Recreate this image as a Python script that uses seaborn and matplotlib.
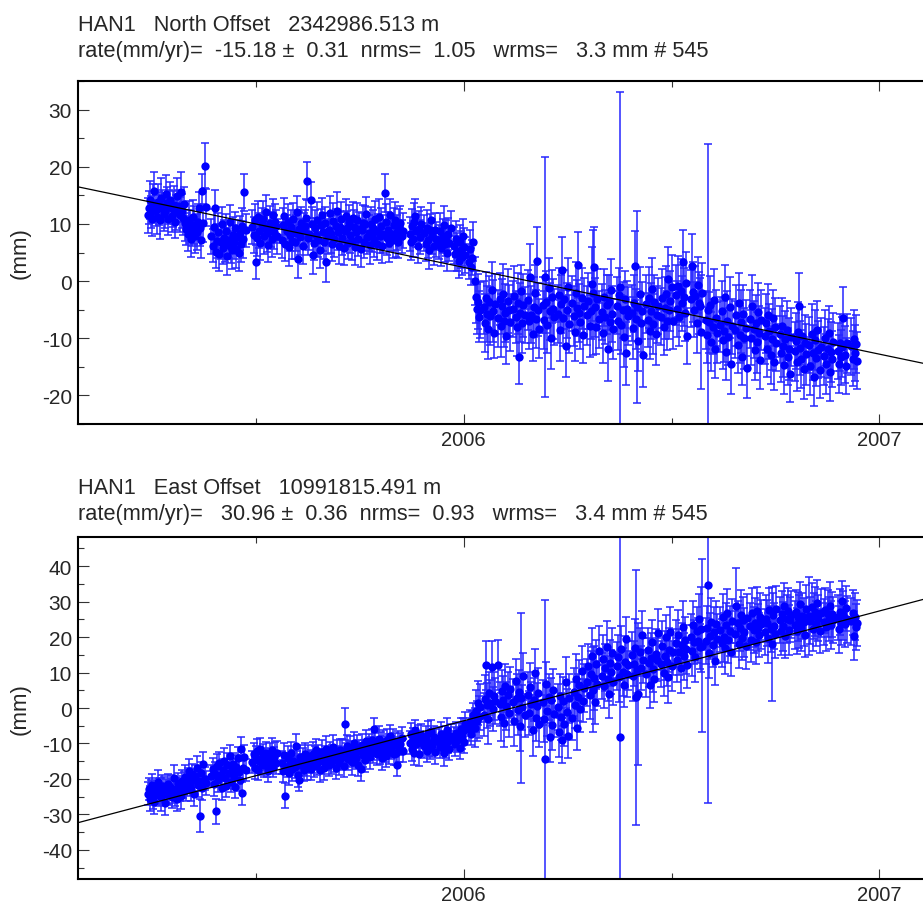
import numpy as np
import pandas as pd
import seaborn as sns
import matplotlib.pyplot as plt
from matplotlib.ticker import MultipleLocator, FixedLocator

# HAN1 daily GPS solutions. Each run of consecutive days starts at run_start
# (day of year 2005, days > 365 fall in 2006) and lasts run_len days.
run_start = [88, 144, 180, 206,
             318, 331, 344, 357, 370, 383, 396, 409, 422, 435, 448, 461, 474, 487,
             500, 513, 526, 539, 552, 565, 578, 591, 604, 617, 630, 643, 656, 669,
             682, 694, 706]
run_len = [52, 31, 23, 107,
           11, 11, 11, 11, 11, 11, 11, 11, 11, 11, 11, 11, 11, 11,
           11, 11, 11, 11, 11, 11, 11, 11, 11, 11, 11, 11, 11, 11,
           9, 9, 6]

north_mm = [
    # 88-139
    11.5, 12.8, 14.2, 12.1, 10.9, 13.5, 15.8, 12.4, 11.2, 13.9,
    12.7, 10.6, 14.6, 13.1, 11.8, 12.3, 15.2, 13.6, 10.8, 12.9,
    14.1, 11.4, 12.6, 13.3, 10.4, 12.0, 14.8, 13.2, 11.6, 15.5,
    12.2, 11.0, 13.4,
    10.2, 9.1, 8.3, 10.7, 9.6, 7.4, 8.9, 11.2, 9.8, 7.9,
    8.6, 10.4, 12.8, 9.3, 7.1, 15.8, 10.1, 20.2, 12.9,
    # 144-174
    7.8, 6.2, 9.4, 12.8, 5.1, 7.0, 8.6, 4.7, 6.9, 9.9,
    5.8, 7.5, 6.3, 8.8, 4.4, 7.2, 10.3, 6.0, 5.4, 8.1,
    6.8, 9.2, 5.6, 7.7, 4.9, 8.4, 6.5, 9.7, 7.3, 15.5, 8.9,
    # 180-202
    9.4, 8.1, 10.6, 3.3, 7.6, 11.2, 8.8, 6.7, 9.9, 10.8,
    7.9, 9.2, 12.1, 8.4, 6.3, 10.1, 9.0, 7.4, 11.5, 8.6,
    10.3, 9.6, 7.8,
    # 206-312
    7.2, 9.8, 11.3, 6.5, 8.7, 10.4, 5.9, 8.1, 9.5, 7.0,
    10.9, 6.8, 8.4, 12.0, 3.9, 9.1, 7.7, 10.2, 6.1, 8.9,
    9.6, 11.1, 17.5, 7.5, 8.3, 14.2, 10.0, 4.5, 6.6, 9.3,
    8.0, 10.7, 7.1, 5.4, 9.8, 11.6, 8.6, 6.9, 10.1, 3.3,
    7.8, 9.0, 11.9, 8.2, 6.4, 10.5, 7.3, 9.7, 12.2, 8.5,
    6.2, 9.4, 10.8, 7.6, 5.8, 8.8, 11.4, 9.2, 6.7, 10.3,
    8.1, 7.0, 11.0, 9.5, 6.0, 8.6, 10.6, 7.4, 9.1, 5.6,
    8.9, 10.2, 6.8, 9.9, 11.7, 7.7, 8.4, 6.3, 10.0, 8.0,
    9.3, 7.2, 10.9, 6.5, 8.7, 11.2, 7.9, 9.6, 6.1, 8.3,
    15.4, 10.4, 7.5, 9.0, 6.6, 11.5, 8.2, 7.1, 9.8, 10.6,
    7.3, 8.5, 6.9, 9.4, 10.1, 7.8, 8.8,
    # 318 onwards, runs of 11
    8.2, 6.9, 9.7, 7.4, 10.3, 11.4, 8.8, 6.2, 9.1, 7.7, 10.0,
    8.4, 6.5, 9.3, 7.1, 5.4, 8.9, 10.6, 7.8, 6.1, 9.0, 7.3,
    6.8, 8.7, 5.7, 7.9, 9.8, 6.4, 7.5, 4.9, 8.3, 6.6, 9.2,
    6.2, 4.8, 7.4, 5.1, 3.6, 6.9, 5.5, 4.2, 7.8, 5.9, 4.6,
    3.4, 5.6, 2.5, 4.1, 6.9, 0.1, -2.8, -4.9, -3.6, -6.2, -5.0,
    -4.6, -7.3, -2.9, -5.8, -8.4, -3.7, -6.1, -1.5, -5.2, -9.0, -4.0,
    -6.5, -3.1, -7.8, -4.4, -2.2, -6.9, -5.6, -9.6, -3.5, -5.1, -7.2,
    -4.8, -2.6, -6.3, -8.1, -3.9, -13.2, -5.5, -1.8, -7.4, -4.2, -6.0,
    -3.3, -7.0, 0.8, -5.9, -9.2, -4.5, -2.0, -6.6, 3.5, -5.0, -8.3,
    -4.1, -6.8, 0.7, -3.6, -7.7, -1.2, -5.3, -9.9, -2.7, -4.9, -6.2,
    -5.7, -2.4, -8.6, -4.0, 1.9, -6.4, -3.2, -11.3, -5.1, -1.0, -7.5,
    -3.9, -6.1, -8.9, -2.1, -4.7, 2.8, -5.6, -7.1, -3.0, -9.4, -4.4,
    -6.0, -3.4, -7.8, -5.2, -0.5, -2.0, 2.4, -4.6, -8.0, -3.1, -6.7,
    -5.4, -9.1, -2.8, -6.3, -4.1, -11.8, -3.7, -7.2, -1.6, -5.8, -8.4,
    -4.3, -6.9, -2.5, -1.0, -7.6, -5.0, -9.8, -3.2, -12.6, -4.8, -6.1,
    -5.5, -8.2, -3.9, 2.7, -6.6, -4.5, -10.4, -2.3, -7.3, -5.2, -13.0,
    -4.0, -6.8, -2.9, -8.7, -5.3, -1.4, -7.5, -3.6, -9.3, -5.9, -4.4,
    -6.2, -3.0, -8.1, -4.7, -2.2, -6.9, 0.4, -5.1, -3.5, -1.0, -7.0,
    -2.4, -4.8, -0.9, -6.3, -1.7, -3.9, 3.3, -2.8, -5.5, -0.3, -9.6,
    -3.1, 2.7, -1.9, -5.0, -2.6, -7.4, -0.6, -3.8, -4.4, -8.9, -2.0,
    -6.8, -9.5, -5.0, -7.2, -4.1, -10.6, -8.0, -3.3, -11.9, -6.4, -9.0,
    -7.6, -5.2, -10.3, -8.8, -2.7, -12.4, -6.9, -9.7, -4.6, -14.5, -7.9,
    -8.5, -6.0, -11.1, -3.8, -9.4, -7.1, -13.3, -5.7, -10.0, -8.2, -15.2,
    -6.6, -9.9, -4.3, -8.4, -12.1, -7.3, -10.7, -5.4, -9.1, -13.8, -6.8,
    -9.6, -7.4, -11.8, -5.9, -8.8, -12.9, -10.2, -6.5, -14.1, -8.1, -10.9,
    -9.3, -12.6, -7.8, -11.4, -14.7, -10.1, -8.6, -13.2, -11.9, -16.3, -9.8,
    -12.3, -10.5, -14.2, -8.9, -4.4, -11.7, -13.6, -9.6, -15.4, -10.8, -12.8,
    -11.1, -14.9, -9.2, -12.5, -16.8, -10.3, -13.4, -8.5, -12.0, -15.6, -11.6,
    # 682-690, 694-702, 706-711
    -13.1, -10.0, -14.5, -11.8, -9.1, -15.9, -12.4, -13.7, -10.6,
    -12.2, -14.5, -10.8, -13.3, -11.5, -6.4, -12.9, -14.8, -10.9,
    -11.4, -13.6, -10.2, -12.5, -11.0, -13.9,
]

north_sig = [
    3.1, 2.9, 3.3, 2.8, 3.0, 3.4, 3.2, 2.7, 3.0, 3.1,
    2.9, 3.2, 3.5, 2.8, 3.0, 3.1, 3.3, 2.9, 2.7, 3.0,
    3.2, 2.8, 3.1, 3.4, 2.9, 3.0, 3.2, 2.8, 3.1, 3.6,
    3.0, 2.9, 3.1,
    3.2, 2.8, 3.0, 3.3, 2.9, 3.1, 2.7, 3.0, 3.4, 2.9,
    3.1, 3.0, 2.8, 3.2, 3.0, 3.0, 3.3, 4.0, 3.2,
    3.0, 2.9, 3.2, 3.1, 2.8, 3.0, 3.3, 2.9, 3.1, 3.0,
    2.8, 3.2, 3.0, 2.9, 3.4, 3.1, 3.0, 2.8, 3.2, 3.1,
    3.0, 2.9, 3.3, 3.0, 3.2, 2.9, 3.1, 3.0, 3.2, 3.2, 2.9,
    3.0, 3.1, 2.9, 3.0, 3.2, 2.8, 3.1, 3.0, 2.9, 3.2,
    3.1, 2.8, 3.0, 3.3, 2.9, 3.1, 3.0, 3.2, 2.8, 3.0,
    3.1, 2.9, 3.0,
    3.1, 2.9, 3.2, 3.0, 2.8, 3.1, 3.3, 2.9, 3.0, 3.2,
    2.8, 3.0, 3.1, 2.9, 3.3, 3.0, 3.2, 2.8, 3.1, 3.0,
    2.9, 3.2, 3.4, 3.0, 2.8, 3.1, 3.0, 3.3, 2.9, 3.1,
    3.0, 3.2, 2.9, 3.1, 2.8, 3.0, 3.3, 3.1, 2.9, 3.4,
    3.1, 2.9, 3.0, 3.2, 2.8, 3.1, 3.0, 2.9, 3.3, 3.0,
    3.2, 2.8, 3.0, 3.1, 2.9, 3.2, 3.0, 3.1, 2.8, 3.0,
    3.1, 3.3, 2.9, 3.0, 3.2, 2.8, 3.1, 3.0, 2.9, 3.2,
    3.0, 3.1, 2.8, 3.2, 3.0, 2.9, 3.1, 3.3, 3.0, 2.9,
    3.2, 3.0, 3.1, 2.8, 3.0, 3.2, 2.9, 3.1, 3.0, 3.3,
    3.4, 3.0, 2.9, 3.1, 3.2, 2.8, 3.0, 3.1, 2.9, 3.2,
    3.0, 3.1, 2.9, 3.2, 3.0, 2.8, 3.1,
    3.0, 3.2, 2.9, 3.1, 3.3, 3.0, 2.8, 3.1, 3.2, 2.9, 3.0,
    3.1, 2.9, 3.2, 3.0, 3.3, 2.8, 3.1, 3.0, 3.2, 2.9, 3.1,
    3.0, 3.2, 3.1, 2.9, 3.3, 3.0, 3.1, 3.2, 2.8, 3.0, 3.1,
    3.2, 3.0, 3.1, 3.3, 3.0, 2.9, 3.2, 3.1, 3.0, 3.3, 3.1,
    3.1, 3.3, 3.2, 3.0, 3.4, 4.2, 4.6, 4.4, 4.8, 4.5, 4.9,
    4.7, 5.1, 4.5, 4.9, 5.3, 4.6, 5.0, 4.8, 5.4, 4.4, 5.2,
    5.0, 4.6, 5.5, 4.8, 5.2, 4.7, 5.1, 4.9, 5.6, 4.5, 5.0,
    4.9, 5.3, 4.6, 5.0, 5.4, 4.8, 5.2, 4.7, 5.1, 5.5, 4.9,
    5.2, 4.8, 5.6, 5.0, 4.7, 5.3, 4.9, 5.1, 6.0, 4.6, 5.2,
    4.9, 5.1, 21.0, 5.4, 4.8, 5.2, 5.0, 5.5, 4.7, 5.3, 4.9,
    5.1, 4.7, 5.3, 5.0, 5.8, 4.9, 5.2, 5.4, 4.8, 5.1, 5.0,
    4.8, 5.2, 5.0, 5.5, 4.9, 5.7, 5.1, 4.7, 5.3, 5.0, 4.9,
    5.2, 4.9, 5.4, 5.0, 6.5, 11.0, 7.0, 5.1, 4.8, 5.3, 5.0,
    4.9, 5.3, 5.0, 4.7, 5.2, 5.6, 4.8, 5.1, 5.4, 4.9, 5.2,
    5.0, 5.2, 4.8, 34.0, 5.1, 4.9, 5.3, 5.0, 5.5, 4.8, 5.1,
    4.9, 5.4, 5.0, 6.0, 5.2, 16.8, 5.3, 4.8, 5.1, 5.0, 5.6,
    5.1, 4.8, 5.3, 5.0, 4.9, 5.4, 5.2, 4.7, 5.3, 5.0, 4.9,
    5.0, 5.2, 4.9, 5.4, 4.8, 5.1, 5.6, 5.0, 5.3, 5.5, 4.9,
    5.2, 4.9, 5.3, 5.0, 5.5, 4.8, 5.7, 5.1, 5.0, 5.4, 4.9,
    5.0, 5.6, 5.2, 4.8, 5.3, 5.1, 4.9, 5.4, 5.0, 10.0, 5.2,
    5.1, 4.9, 29.0, 5.3, 5.0, 5.2, 4.8, 5.4, 5.1, 4.9, 5.3,
    4.8, 5.2, 5.0, 5.3, 5.6, 4.9, 5.1, 5.0, 5.4, 5.2, 4.8,
    5.0, 5.3, 4.9, 5.2, 5.0, 5.5, 4.8, 5.1, 5.3, 4.9, 5.2,
    5.1, 4.8, 5.4, 5.0, 5.2, 4.9, 5.3, 5.1, 4.8, 5.0, 5.3,
    4.9, 5.2, 5.0, 5.4, 4.8, 5.1, 5.3, 4.9, 5.0, 5.2, 4.8,
    5.0, 5.1, 4.9, 5.3, 5.0, 4.8, 5.2, 5.0, 5.4, 4.9, 5.1,
    5.2, 4.9, 5.0, 5.3, 5.8, 4.8, 5.1, 5.0, 5.2, 4.9, 5.3,
    4.9, 5.1, 5.2, 4.8, 5.0, 5.3, 4.9, 5.1, 5.0, 4.8, 5.2,
    5.0, 4.9, 5.2, 5.1, 4.8, 5.0, 5.3, 4.9, 5.1,
    4.9, 5.1, 5.0, 4.8, 5.2, 5.4, 5.0, 4.9, 5.1,
    5.0, 4.8, 5.2, 4.9, 5.1, 5.0,
]

east_mm = [
    # 88-139
    -24.1, -22.8, -25.6, -23.3, -21.7, -24.9, -26.4, -22.5, -23.8, -20.9,
    -24.6, -23.1, -25.2, -21.9, -22.7, -26.8, -23.5, -24.2, -21.4, -23.9,
    -22.3, -25.1, -23.6, -19.8, -24.4, -22.9, -25.7, -21.2, -23.0, -24.7,
    -20.6, -22.4, -21.3,
    -19.5, -23.2, -20.1, -17.8, -21.6, -22.9, -18.7, -20.4, -24.1, -19.3,
    -16.9, -21.8, -20.5, -30.3, -18.4, -22.6, -15.8, -19.9, -21.1,
    # 144-174
    -19.2, -17.1, -21.4, -18.6, -29.1, -16.3, -20.2, -15.4, -18.9, -22.6,
    -17.5, -14.8, -19.7, -21.9, -16.2, -18.4, -13.6, -20.8, -17.7, -15.9,
    -19.5, -22.3, -16.7, -14.2, -18.1, -20.4, -11.5, -24.0, -16.9, -13.8, -17.4,
    # 180-202
    -15.2, -13.1, -16.8, -14.0, -12.2, -17.4, -14.9, -11.6, -15.7, -13.5,
    -16.2, -14.4, -12.8, -15.9, -17.8, -13.3, -14.7, -11.9, -16.5, -14.1,
    -13.0, -15.4, -12.6,
    # 206-312
    -15.4, -17.8, -13.2, -24.7, -16.5, -14.1, -18.3, -15.9, -12.7, -17.2,
    -14.8, -16.6, -10.6, -15.3, -18.9, -20.3, -13.9, -16.0, -14.5, -17.5,
    -12.9, -15.7, -16.8, -13.6, -14.9, -17.1, -15.2, -13.0, -16.3, -14.0,
    -11.8, -15.5, -13.4, -17.6, -14.6, -12.3, -15.0, -16.9, -13.7, -11.5,
    -14.3, -16.2, -12.8, -15.1, -13.3, -10.9, -14.7, -17.0, -12.5, -13.9,
    -15.6, -11.7, -14.2, -12.0, -16.4, -4.4, -13.1, -10.8, -14.4, -12.6,
    -11.2, -15.3, -13.5, -9.9, -12.9, -14.1, -11.0, -16.1, -12.2, -17.3,
    -10.5, -13.2, -11.9, -14.6, -9.4, -12.4, -10.7, -13.8, -11.3, -9.1,
    -12.1, -5.9, -10.2, -13.0, -11.4, -8.6, -12.7, -10.0, -14.2, -9.7,
    -11.6, -13.4, -8.9, -10.6, -12.3, -7.8, -11.1, -9.3, -13.1, -10.4,
    -12.8, -16.0, -9.6, -11.7, -10.1, -8.4, -12.0,
    # 318 onwards, runs of 11
    -9.8, -7.4, -11.6, -8.9, -12.7, -6.3, -10.2, -8.1, -13.0, -9.5, -7.7,
    -10.8, -8.6, -12.1, -7.0, -9.9, -11.3, -6.6, -10.5, -8.3, -12.4, -9.2,
    -8.8, -11.0, -7.3, -9.6, -12.8, -8.0, -10.7, -6.1, -9.4, -11.5, -7.9,
    -8.5, -10.1, -6.9, -9.0, -7.6, -11.2, -5.8, -8.3, -6.4, -9.7, -4.6,
    -6.0, -3.9, -7.2, -4.3, -2.1, -5.5, -0.8, -3.6, 1.4, -2.5, 0.3,
    -1.9, 2.6, 12.0, 0.8, -3.2, 4.1, 1.5, 11.6, -0.4, 3.3, 2.0,
    12.2, 1.1, -2.6, 4.8, 2.3, -4.1, 6.2, 0.5, 3.7, -1.3, 5.4,
    1.8, -3.7, 7.5, 2.9, -0.6, 4.4, -5.2, 2.8, 0.2, 8.9, -2.1,
    3.6, -1.5, 5.9, 1.0, -6.3, 2.4, 9.8, -2.9, 0.7, 4.3, -4.4,
    1.6, -3.0, -14.5, 6.8, -0.9, 3.1, -8.2, 2.2, -4.9, 5.1, -1.7,
    0.4, -6.7, 3.5, -2.4, -9.1, 1.9, -4.6, 7.2, -1.1, -7.8, 2.7,
    -2.8, 4.6, 0.9, 8.1, -5.5, 3.0, 6.5, -0.3, 10.4, 2.1, 5.6,
    7.3, 11.9, 3.8, 9.5, 14.6, 5.2, 8.4, 1.7, 12.3, 6.9, 16.1,
    9.0, 13.8, 6.1, 11.4, 17.2, 8.3, 3.9, 12.7, 10.1, 15.5, 7.4,
    11.8, 14.4, 8.7, -8.1, 16.5, 10.2, 6.6, 13.1, 19.4, 9.6, 12.0,
    14.9, 8.9, 12.5, 17.0, 3.0, 10.7, 4.0, 15.8, 11.2, 20.6, 13.4,
    9.7, 16.3, 12.8, 6.4, 14.0, 18.5, 11.1, 8.2, 15.2, 13.6, 21.2,
    12.4, 17.6, 10.0, 14.8, 19.9, 13.0, 8.8, 16.4, 21.5, 11.9, 15.7,
    18.2, 13.5, 20.7, 15.9, 11.3, 17.8, 22.9, 14.6, 19.3, 16.5, 12.0,
    20.1, 16.2, 23.4, 18.7, 14.3, 21.8, 19.0, 25.1, 17.3, 22.2, 17.6,
    18.9, 22.6, 34.8, 15.5, 20.4, 24.3, 17.9, 21.5, 13.2, 23.7, 19.6,
    22.1, 18.4, 25.6, 20.0, 16.8, 23.3, 26.9, 19.2, 21.7, 15.7, 24.5,
    20.8, 28.9, 23.9, 18.1, 22.5, 26.2, 19.7, 24.8, 21.3, 17.4, 25.4,
    23.0, 19.3, 26.7, 21.9, 24.1, 18.6, 27.3, 22.7, 20.5, 25.8, 23.6,
    21.4, 25.2, 24.0, 19.8, 27.6, 22.3, 18.0, 26.1, 23.2, 20.9, 28.0,
    24.7, 21.6, 26.5, 23.1, 28.7, 20.3, 25.0, 27.4, 22.0, 24.9, 26.3,
    23.5, 27.0, 21.8, 25.7, 24.4, 29.2, 22.6, 26.0, 24.2, 20.7, 27.8,
    26.0, 24.6, 28.4, 22.4, 25.9, 27.2, 23.8, 29.6, 25.3, 21.7, 26.8,
    # 682-690, 694-702, 706-711
    24.3, 27.5, 22.9, 26.6, 25.1, 28.9, 23.4, 26.4, 24.8,
    25.6, 22.2, 27.0, 24.0, 30.3, 26.2, 23.6, 28.1, 25.0,
    24.4, 26.9, 20.4, 25.8, 22.8, 23.9,
]

east_sig = [
    3.3, 3.1, 3.5, 3.0, 3.2, 3.6, 3.4, 2.9, 3.2, 3.3,
    3.1, 3.4, 3.7, 3.0, 3.2, 3.3, 3.5, 3.1, 2.9, 3.2,
    3.4, 3.0, 3.3, 3.6, 3.1, 3.2, 3.4, 3.0, 3.3, 3.8,
    3.2, 3.1, 3.3,
    3.4, 3.0, 3.2, 3.5, 3.1, 3.3, 2.9, 3.2, 3.6, 3.1,
    3.3, 3.2, 3.0, 4.7, 3.2, 3.2, 3.5, 3.3, 3.4,
    3.2, 3.1, 3.4, 3.3, 3.5, 3.2, 3.5, 3.1, 3.3, 3.2,
    3.0, 3.4, 3.2, 3.1, 3.6, 3.3, 3.2, 3.0, 3.4, 3.3,
    3.2, 3.1, 3.5, 3.2, 3.4, 3.1, 3.3, 3.2, 3.4, 3.4, 3.1,
    3.2, 3.3, 3.1, 3.2, 3.4, 3.0, 3.3, 3.2, 3.1, 3.4,
    3.3, 3.0, 3.2, 3.5, 3.1, 3.3, 3.2, 3.4, 3.0, 3.2,
    3.3, 3.1, 3.2,
    3.3, 3.1, 3.4, 3.5, 3.0, 3.3, 3.5, 3.1, 3.2, 3.4,
    3.0, 3.2, 3.3, 3.1, 3.5, 3.2, 3.4, 3.0, 3.3, 3.2,
    3.1, 3.4, 3.6, 3.2, 3.0, 3.3, 3.2, 3.5, 3.1, 3.3,
    3.2, 3.4, 3.1, 3.3, 3.0, 3.2, 3.5, 3.3, 3.1, 3.6,
    3.3, 3.1, 3.2, 3.4, 3.0, 3.3, 3.2, 3.1, 3.5, 3.2,
    3.4, 3.0, 3.2, 3.3, 3.1, 4.5, 3.2, 3.3, 3.0, 3.2,
    3.3, 3.5, 3.1, 3.2, 3.4, 3.0, 3.3, 3.2, 3.1, 3.4,
    3.2, 3.3, 3.0, 3.4, 3.2, 3.1, 3.3, 3.5, 3.2, 3.1,
    3.4, 3.2, 3.3, 3.0, 3.2, 3.4, 3.1, 3.3, 3.2, 3.5,
    3.6, 3.2, 3.1, 3.3, 3.4, 3.0, 3.2, 3.3, 3.1, 3.4,
    3.2, 3.3, 3.1, 3.4, 3.2, 3.0, 3.3,
    3.3, 3.1, 3.4, 3.2, 3.5, 3.0, 3.3, 3.2, 3.4, 3.1, 3.3,
    3.2, 3.4, 3.1, 3.3, 3.5, 3.0, 3.2, 3.4, 3.1, 3.3, 3.2,
    3.4, 3.1, 3.3, 3.2, 3.5, 3.0, 3.3, 3.2, 3.4, 3.1, 3.3,
    3.2, 3.5, 3.1, 3.3, 3.4, 3.2, 3.0, 3.3, 3.5, 3.1, 3.4,
    3.3, 3.4, 3.2, 3.5, 3.6, 5.4, 6.0, 5.7, 6.2, 5.9, 6.4,
    6.1, 6.6, 7.0, 6.3, 6.9, 6.0, 6.5, 7.2, 6.2, 6.8, 6.4,
    7.1, 6.3, 6.8, 6.0, 6.6, 7.0, 6.2, 6.7, 6.4, 6.9, 6.1,
    6.5, 6.9, 6.2, 6.6, 7.1, 6.3, 6.8, 24.0, 6.4, 6.7, 6.0,
    6.6, 6.2, 6.9, 6.4, 7.3, 6.1, 6.8, 6.5, 6.3, 7.0, 6.6,
    6.4, 6.7, 45.0, 6.2, 6.9, 6.5, 7.1, 6.3, 6.8, 6.0, 6.6,
    6.5, 7.0, 6.2, 6.7, 6.4, 6.9, 6.1, 7.2, 6.6, 6.3, 6.8,
    6.3, 6.8, 6.5, 7.0, 6.2, 6.6, 6.9, 6.4, 7.1, 6.0, 6.7,
    6.6, 6.2, 6.9, 6.5, 8.0, 12.0, 9.0, 6.3, 6.8, 6.4, 7.0,
    6.4, 6.9, 6.1, 6.7, 7.2, 6.3, 6.8, 6.5, 6.2, 7.0, 6.6,
    6.7, 6.3, 6.9, 60.0, 6.5, 6.8, 6.2, 7.1, 6.4, 6.6, 6.9,
    6.5, 7.0, 6.3, 8.0, 36.0, 6.6, 20.0, 6.9, 6.2, 6.8, 6.4,
    6.6, 6.2, 6.9, 6.5, 7.1, 6.3, 6.7, 6.4, 7.0, 6.1, 6.8,
    6.4, 6.8, 6.5, 7.0, 6.2, 6.7, 7.3, 6.3, 6.9, 7.1, 6.5,
    6.7, 6.3, 6.9, 6.5, 7.2, 6.1, 7.4, 6.6, 6.4, 7.0, 6.3,
    6.5, 7.2, 6.8, 6.2, 6.9, 6.6, 6.3, 7.0, 6.4, 12.0, 24.4,
    6.6, 6.3, 61.5, 6.9, 6.5, 6.7, 6.2, 7.0, 6.6, 6.4, 6.8,
    6.3, 6.7, 6.5, 6.9, 7.2, 6.4, 6.6, 6.5, 7.0, 6.8, 6.2,
    6.5, 10.6, 6.4, 6.8, 6.5, 7.1, 6.2, 6.6, 6.9, 6.4, 6.7,
    6.6, 6.2, 7.0, 6.5, 6.8, 6.3, 6.9, 6.6, 6.2, 6.5, 6.9,
    6.4, 6.7, 6.5, 7.0, 6.2, 6.6, 16.0, 6.4, 6.5, 6.8, 6.3,
    6.5, 6.6, 6.4, 6.9, 6.5, 6.3, 6.8, 6.5, 7.0, 6.4, 6.6,
    6.8, 6.4, 6.5, 6.9, 7.4, 6.3, 6.6, 6.5, 6.7, 6.4, 6.9,
    11.0, 6.6, 6.8, 6.3, 6.5, 6.9, 6.4, 6.6, 6.5, 6.3, 6.7,
    6.5, 6.4, 6.7, 6.6, 6.3, 6.5, 6.8, 6.4, 6.6,
    6.4, 6.6, 6.5, 6.3, 5.6, 6.9, 6.5, 6.4, 6.6,
    6.5, 6.3, 7.0, 6.6, 6.4, 6.5,
]

# fitted rates (from the header) and fitted value at 2006.0
north_rate, north_at_2006 = -15.18, 2.4
east_rate, east_at_2006 = 30.96, -3.6

north_head = ["HAN1   North Offset   2342986.513 m",
              "rate(mm/yr)=  -15.18 \u00b1  0.31  nrms=  1.05   wrms=   3.3 mm # 545"]
east_head = ["HAN1   East Offset   10991815.491 m",
             "rate(mm/yr)=   30.96 \u00b1  0.36  nrms=  0.93   wrms=   3.4 mm # 545"]

XLIM = (2005.071, 2007.105)

sns.set_style("ticks")
plt.rcParams['font.family'] = ['Liberation Sans', 'DejaVu Sans']
plt.rcParams['axes.unicode_minus'] = False

days = np.concatenate([np.arange(s, s + n) for s, n in zip(run_start, run_len)])
year = 2005 + (days - 0.5) / 365.0

FS = 15.7


def panel(ax, vals, sig, rate, at2006, ylim):
    df = pd.DataFrame({"year": year, "mm": vals, "sig": sig})
    ax.errorbar(df["year"], df["mm"], yerr=df["sig"], fmt="none", ecolor="#2626ff",
                elinewidth=1.1, capsize=2.9, capthick=1.1, zorder=2)
    sns.scatterplot(data=df, x="year", y="mm", ax=ax, color="#0000ff", s=36,
                    linewidth=0, zorder=3, legend=False)
    xs = np.array(XLIM)
    ax.plot(xs, at2006 + rate * (xs - 2006.0), color="black", lw=0.9, zorder=4)

    ax.set_xlim(*XLIM)
    ax.set_ylim(*ylim)
    ax.set_xlabel("")
    ax.set_ylabel("")
    ax.xaxis.set_major_locator(FixedLocator([2006, 2007]))
    ax.xaxis.set_minor_locator(FixedLocator([2005.5, 2006.5]))
    ax.set_xticklabels(["2006", "2007"])
    ax.yaxis.set_major_locator(MultipleLocator(10))
    ax.yaxis.set_minor_locator(MultipleLocator(5))
    ax.tick_params(axis="x", which="both", direction="in", top=True, bottom=True,
                   labelsize=14.5, pad=4, width=0.8, color="#333333")
    ax.tick_params(axis="x", which="major", length=7.5)
    ax.tick_params(axis="x", which="minor", length=4.3)
    ax.tick_params(axis="y", which="both", direction="in", left=True, right=False,
                   labelsize=15, pad=4, width=0.8, color="#333333")
    ax.tick_params(axis="y", which="major", length=8)
    ax.tick_params(axis="y", which="minor", length=4.3)
    for side in ["left", "top", "bottom"]:
        ax.spines[side].set_linewidth(1.5)
        ax.spines[side].set_color("black")
    ax.spines["right"].set_visible(False)


fig = plt.figure(figsize=(9.23, 9.04), dpi=100)
H = 904.0
ax_n = fig.add_axes([0.084, 1 - 425 / H, 0.916, (425 - 82) / H])
ax_e = fig.add_axes([0.084, 1 - 880 / H, 0.916, (880 - 537.7) / H])

panel(ax_n, north_mm, north_sig, north_rate, north_at_2006, (-25, 35))
panel(ax_e, east_mm, east_sig, east_rate, east_at_2006, (-48.2, 48.3))

for head, base1, base2 in [(north_head, 31, 57), (east_head, 494, 520)]:
    fig.text(0.084, 1 - base1 / H, head[0], fontsize=FS, ha="left", va="baseline")
    fig.text(0.084, 1 - base2 / H, head[1], fontsize=FS, ha="left", va="baseline")

fig.text(20 / 923, 1 - 253 / H, "(mm)", rotation=90, fontsize=16, ha="center", va="center")
fig.text(20 / 923, 1 - 709 / H, "(mm)", rotation=90, fontsize=16, ha="center", va="center")

fig.savefig("out.png", dpi=100, facecolor="white")
